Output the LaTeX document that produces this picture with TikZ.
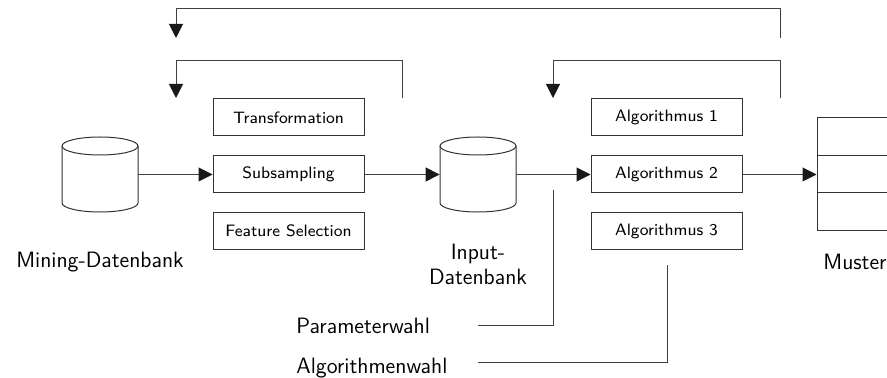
\documentclass[tikz,border=0pt]{standalone}
\usetikzlibrary{arrows.meta}
\begin{document}
\begin{tikzpicture}[x=0.5pt,y=0.5pt,
  line/.style={draw=black!75, line width=0.5pt},
  arr/.style={line, -{Triangle[length=7pt,width=7pt,fill=black!90,color=black!90]}},
  stepbox/.style={draw=black!80, line width=0.5pt, minimum width=75.5pt, minimum height=18.5pt,
    inner sep=0pt, font=\sffamily\fontsize{8.25}{10}\selectfont},
  biglabel/.style={font=\sffamily\fontsize{11.1}{12.5}\selectfont, inner sep=0pt},
  dbbody/.style={minimum width=38pt, minimum height=37.5pt, inner sep=0pt}
]
\clip (0,0) rectangle (887,-378);

% database bodies (anchors for the connectors)
\node[dbbody] (mdb) at (100,-174.5) {};
\node[dbbody] (idb) at (478,-174.5) {};
% cylinders
\foreach \cx in {100,478}{
  \draw[black!80, line width=0.5pt] (\cx-38,-146) -- (\cx-38,-203)
     arc[start angle=180, end angle=360, x radius=38, y radius=9]
     -- (\cx+38,-146);
  \draw[black!80, line width=0.5pt] (\cx,-146) ellipse[x radius=38, y radius=9];
}

% preprocessing steps
\node[stepbox] (trans) at (288.5,-117.5) {Transformation};
\node[stepbox] (subs)  at (288.5,-174.5) {Subsampling};
\node[stepbox] (feat)  at (288.5,-231)   {Feature Selection};

% algorithms
\node[stepbox] (alg1) at (666.5,-117.5) {Algorithmus 1};
\node[stepbox] (alg2) at (666.5,-174.5) {Algorithmus 2};
\node[stepbox] (alg3) at (666.5,-231)   {Algorithmus 3};

% pattern table
\node[draw=black!80, line width=0.5pt, minimum width=38pt, minimum height=56.5pt, inner sep=0pt]
  (muster) at (855,-174.5) {};
\draw[black!80, line width=0.5pt] (muster.west |- 0,-156) -- (muster.east |- 0,-156);
\draw[black!80, line width=0.5pt] (muster.west |- 0,-193) -- (muster.east |- 0,-193);

% labels
\node[biglabel, anchor=base] (lmdb) at (100,-268) {Mining-Datenbank};
\node[biglabel, anchor=base] (lidb1) at (478,-260) {Input-};
\node[biglabel, anchor=base] (lidb2) at (478,-285) {Datenbank};
\node[biglabel, anchor=base] (lmus) at (855,-270) {Muster};
\node[biglabel, anchor=base west] (lpar) at (296,-334) {Parameterwahl};
\node[biglabel, anchor=base west] (lalg) at (296,-373) {Algorithmenwahl};

% main flow
\draw[arr] (mdb.east) -- (subs.west);
\draw[arr] (subs.east) -- (idb.west);
\draw[arr] (idb.east) -- (alg2.west);
\draw[arr] (alg2.east) -- (muster.west);

% feedback loops
\coordinate (fbA) at (780,-38);
\coordinate (fbAend) at (176,-38);
\coordinate (fbB) at (402,-98);
\coordinate (fbBend) at (176,-98);
\coordinate (fbC) at (780,-98);
\coordinate (fbCend) at (553,-98);
\draw[arr] (fbA) -- (780,-9) -- (176,-9) -- (fbAend);
\draw[arr] (fbB) -- (402,-61) -- (176,-61) -- (fbBend);
\draw[arr] (fbC) -- (780,-61) -- (553,-61) -- (fbCend);

% choices
\coordinate (parA) at (478,-326);
\coordinate (parB) at (553,-190);
\coordinate (algA) at (478,-363);
\coordinate (algB) at (667,-265);
\draw[line] (parA) -| (parB);
\draw[line] (algA) -| (algB);
\end{tikzpicture}
\end{document}
